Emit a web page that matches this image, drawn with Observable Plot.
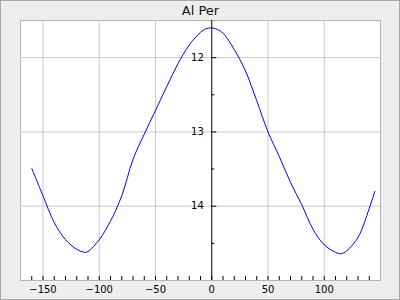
<!DOCTYPE html>
<html>
<head>
<meta charset="utf-8">
<script src="https://cdn.jsdelivr.net/npm/d3@7"></script>
<script src="https://cdn.jsdelivr.net/npm/@observablehq/plot@0.6"></script>
<style>
  html, body { margin: 0; padding: 0; background: #eeeeee; }
  #wrap { position: relative; width: 400px; height: 300px; background: #eeeeee; box-shadow: inset 0 0 0 1px #a8a8a8; overflow: hidden; }
  #wrap svg { position: absolute; left: 0; top: 0; background: transparent; }
</style>
</head>
<body>
<div id="wrap"></div>
<script>
const title = "Al Per";
const xs = [-160, -150, -140, -130, -120, -113, -110, -100, -90, -80, -70, -60, -50, -40, -30, -20, -10, -5, 0, 5, 10, 20, 30, 40, 50, 60, 70, 80, 90, 100, 110, 115, 120, 130, 140, 145];
const ys = [13.49, 13.86, 14.22, 14.45, 14.58, 14.62, 14.61, 14.45, 14.2, 13.86, 13.37, 13.03, 12.71, 12.39, 12.08, 11.83, 11.66, 11.61, 11.6, 11.62, 11.67, 11.89, 12.18, 12.58, 13.0, 13.33, 13.68, 13.98, 14.31, 14.52, 14.62, 14.64, 14.6, 14.42, 14.03, 13.8];
const xMajor = [-150, -100, -50, 0, 50, 100];
const xGrid = [-150, -100, -50, 50, 100];
const xMinor = d3.range(-160, 150, 10);
const yMajor = [12, 13, 14];
const yMinor = [12.5, 13.5, 14.5];

const data = xs.map((x, i) => ({x, y: ys[i]}));

const W = 400, H = 300, mL = 20, mR = 20, mT = 20, mB = 20;
const xDomain = [-170, 150];
const x0px = mL + (0 - xDomain[0]) / (xDomain[1] - xDomain[0]) * (W - mL - mR);
const innerW = W - mL - mR, innerH = H - mT - mB;

const chart = Plot.plot({
  width: W, height: H,
  marginLeft: mL, marginRight: mR, marginTop: mT, marginBottom: mB,
  style: {fontFamily: "DejaVu Sans", fontSize: "10px", background: "transparent", color: "black"},
  x: {domain: xDomain, label: null},
  y: {domain: [11.5, 15], reverse: true, axis: null, label: null},
  marks: [
    Plot.frame({fill: "white", stroke: "#b4b4b4"}),
    Plot.gridX(xGrid, {stroke: "#c8c8c8", strokeOpacity: 1}),
    Plot.gridY(yMajor, {stroke: "#c8c8c8", strokeOpacity: 1}),
    Plot.tickX(xMinor, {x: d => d, stroke: "black", insetTop: innerH - 4}),
    Plot.axisX({ticks: xMajor, tickSize: 0, tickPadding: 5, fontSize: 10, fill: "black", label: null}),
    Plot.ruleX([0], {stroke: "black"}),
    Plot.tickY(yMajor, {y: d => d, stroke: "black", insetLeft: x0px - mL, insetRight: innerW - (x0px - mL) - 5}),
    Plot.tickY(yMinor, {y: d => d, stroke: "black", insetLeft: x0px - mL, insetRight: innerW - (x0px - mL) - 3}),
    Plot.text(yMajor, {x: () => 0, y: d => d, text: d => String(d), textAnchor: "end", dx: -8, fontSize: 10, fill: "black"}),
    Plot.line(data, {x: "x", y: "y", stroke: "#0000ff", strokeWidth: 1, curve: "catmull-rom"}),
    Plot.text([title], {frameAnchor: "top", lineAnchor: "middle", dy: -10, fontSize: 13, fill: "#111"})
  ]
});
document.getElementById("wrap").appendChild(chart);
</script>
</body>
</html>
